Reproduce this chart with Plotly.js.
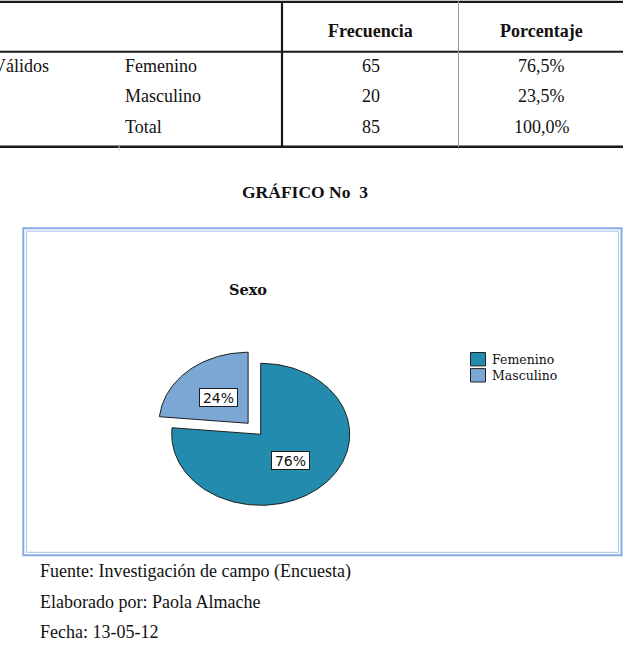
<!DOCTYPE html>
<html>
<head>
<meta charset="utf-8">
<script src="https://cdn.plot.ly/plotly-3.0.1.min.js"></script>
<style>
  html, body { margin: 0; padding: 0; background: #ffffff; }
  #chart { width: 623px; height: 659px; }
</style>
</head>
<body>
<div id="chart"></div>
<script>
// ---------- data ----------
const tableHeaders = ['Frecuencia', 'Porcentaje'];
const groupLabel = 'Válidos';
const rowLabels = ['Femenino', 'Masculino', 'Total'];
const frequencies = [65, 20, 85];
const percentages = ['76,5%', '23,5%', '100,0%'];

const figureTitle = 'GRÁFICO No\u00a0 3';
const chartTitle = 'Sexo';
const categories = ['Femenino', 'Masculino'];
const counts = [65, 20];
const sliceColors = ['#238bae', '#7ba7d4'];

const footnotes = [
  'Fuente: Investigación de campo (Encuesta)',
  'Elaborado por: Paola Almache',
  'Fecha: 13-05-12'
];

// ---------- layout helpers ----------
const W = 623, H = 659;
const SERIF = 'Liberation Serif, Times New Roman, serif';
const WIDE_SERIF = 'DejaVu Serif, serif';
const SANS = 'DejaVu Sans, Verdana, sans-serif';

// pie ellipse geometry (page pixels)
const pie = { cx: 260.7, cy: 434.3, rx: 89, ry: 71, span: 1.45 };
const pulls = [0, 0.21];

const shapes = [];
const annotations = [];

function line(x0, y0, x1, y1, color, width) {
  shapes.push({ type: 'line', xref: 'x', yref: 'y', x0, y0, x1, y1,
    line: { color, width } });
}
function text(t, x, y, opts) {
  annotations.push(Object.assign({
    text: t, x, y, xref: 'x', yref: 'y', showarrow: false,
    xanchor: 'center', yanchor: 'middle', borderpad: 0, borderwidth: 0,
    font: { family: SERIF, size: 18, color: '#111' }
  }, opts || {}));
}

// ---------- table ----------
line(0, 1.8, W, 1.8, '#1a1a1a', 2.2);
line(0, 51.8, W, 51.8, '#1a1a1a', 2);
line(0, 146.8, W, 146.8, '#1a1a1a', 2.6);
line(282, 1, 282, 147.5, '#1a1a1a', 2.2);
line(458.5, 1, 458.5, 147, '#9a9a9a', 1);
line(119, 146, 119, 151, '#d0d0d0', 1);

const colX = [370.5, 541.5];
tableHeaders.forEach((h, i) => text('<b>' + h + '</b>', colX[i], 31));
const rowY = [66, 96, 126.5];
text(groupLabel, 48.5, rowY[0], { xanchor: 'right' });
rowLabels.forEach((r, i) => {
  text(r, 125, rowY[i], { xanchor: 'left' });
  text(String(frequencies[i]), colX[0], rowY[i]);
  text(percentages[i], colX[1], rowY[i]);
});

// ---------- figure title ----------
text('<b>' + figureTitle + '</b>', 305, 192, { font: { family: SERIF, size: 17.5, color: '#111' } });

// ---------- chart frame ----------
shapes.push({ type: 'rect', xref: 'x', yref: 'y', x0: 23.3, y0: 228.2, x1: 621.5, y1: 555.3,
  line: { color: '#85abe3', width: 2 }, layer: 'below' });
shapes.push({ type: 'rect', xref: 'x', yref: 'y', x0: 26.5, y0: 231.2, x1: 618.4, y1: 552.3,
  line: { color: '#b4ccf0', width: 1.2 }, layer: 'below' });

text('<b>' + chartTitle + '</b>', 247.5, 289.5, { font: { family: WIDE_SERIF, size: 14.5, color: '#111' } });

// ---------- pie (elliptical, on its own axes) ----------
const total = counts.reduce((a, b) => a + b, 0);
const traces = [];
let acc = 0;
counts.forEach((v, i) => {
  const frac = v / total;
  const a0 = Math.PI / 2 - acc * 2 * Math.PI;
  const a1 = Math.PI / 2 - (acc + frac) * 2 * Math.PI;
  const mid = (a0 + a1) / 2;
  const ox = pulls[i] * Math.cos(mid), oy = pulls[i] * Math.sin(mid);
  const n = Math.max(8, Math.ceil(frac * 240));
  const xs = [ox], ys = [oy];
  for (let k = 0; k <= n; k++) {
    const a = a0 + (a1 - a0) * k / n;
    xs.push(ox + Math.cos(a));
    ys.push(oy + Math.sin(a));
  }
  xs.push(ox); ys.push(oy);
  traces.push({
    type: 'scatter', mode: 'lines', x: xs, y: ys, xaxis: 'x2', yaxis: 'y2',
    fill: 'toself', fillcolor: sliceColors[i],
    line: { color: '#1e1e1e', width: 1 },
    name: categories[i], showlegend: false, hoverinfo: 'skip'
  });
  annotations.push({
    text: Math.round(frac * 100) + '%',
    x: ox + 0.5 * Math.cos(mid), y: oy + 0.5 * Math.sin(mid),
    xref: 'x2', yref: 'y2', showarrow: false,
    xanchor: 'center', yanchor: 'middle',
    font: { family: SANS, size: 14, color: '#111' },
    bgcolor: '#ffffff', bordercolor: '#1e1e1e', borderwidth: 1, borderpad: 1,
    width: 35, height: 15
  });
  acc += frac;
});

// ---------- legend (manual, matching the original swatches) ----------
const legY = [359.2, 375.3];
categories.forEach((c, i) => {
  shapes.push({ type: 'rect', xref: 'x', yref: 'y',
    x0: 470.5, x1: 485.5, y0: legY[i] - 6.7, y1: legY[i] + 6.7,
    fillcolor: sliceColors[i], line: { color: '#222', width: 1 } });
  text(c, 492, legY[i] + 0.5, { xanchor: 'left', font: { family: WIDE_SERIF, size: 12.5, color: '#111' } });
});

// ---------- footnotes ----------
const footY = [571, 602, 632];
footnotes.forEach((f, i) => text(f, 40, footY[i], { xanchor: 'left', font: { family: SERIF, size: 18, color: '#111' } }));

// ---------- axes ----------
const xd = [(pie.cx - pie.span * pie.rx) / W, (pie.cx + pie.span * pie.rx) / W];
const yd = [1 - (pie.cy + pie.span * pie.ry) / H, 1 - (pie.cy - pie.span * pie.ry) / H];

const layout = {
  width: W, height: H,
  margin: { l: 0, r: 0, t: 0, b: 0, pad: 0 },
  paper_bgcolor: '#ffffff', plot_bgcolor: 'rgba(0,0,0,0)',
  showlegend: false,
  xaxis: { range: [0, W], domain: [0, 1], visible: false, fixedrange: true },
  yaxis: { range: [H, 0], domain: [0, 1], visible: false, fixedrange: true },
  xaxis2: { range: [-pie.span, pie.span], domain: xd, anchor: 'y2', visible: false, fixedrange: true },
  yaxis2: { range: [-pie.span, pie.span], domain: yd, anchor: 'x2', visible: false, fixedrange: true },
  shapes, annotations
};

Plotly.newPlot('chart', traces, layout, { staticPlot: true, displayModeBar: false });
</script>
</body>
</html>
